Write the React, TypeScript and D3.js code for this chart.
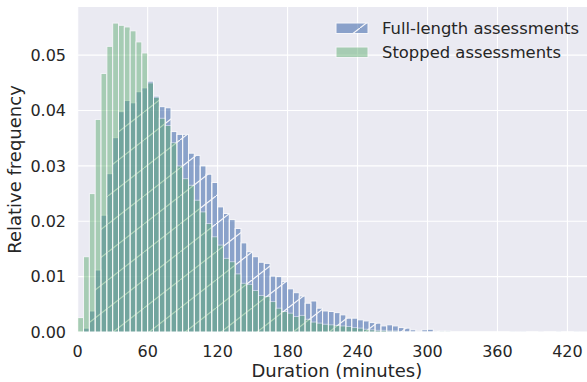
import React, { useRef, useEffect } from 'react';
import * as d3 from 'd3';

// relative frequency per 5-minute bin, starting at 0 minutes
const BIN_MINUTES = 5;

const fullLength = [
  0.0001, 0.0007, 0.0038, 0.0112, 0.0211, 0.0286, 0.0351, 0.0398, 0.0418, 0.0414,
  0.0434, 0.0441, 0.0453, 0.0426, 0.0407, 0.0405, 0.0362, 0.0357, 0.0357, 0.0323,
  0.0319, 0.0300, 0.0285, 0.0270, 0.0226, 0.0214, 0.0203, 0.0187, 0.0161, 0.0145,
  0.0136, 0.0126, 0.0124, 0.0101, 0.0100, 0.0091, 0.0078, 0.0071, 0.0065, 0.0052,
  0.0056, 0.0043, 0.0038, 0.0037, 0.0035, 0.0031, 0.0025, 0.0025, 0.0022, 0.0020,
  0.0017, 0.0016, 0.0011, 0.0013, 0.0011, 0.0008, 0.0007, 0.0004, 0.0002, 0.0004,
  0.0005, 0.0002, 0.0002, 0.0002, 0.0001, 0.0001, 0.0001, 0.0001, 0.0001, 0.0001,
  0.0001, 0.0001, 0.0001, 0.0001, 0.00005, 0, 0.00005, 0.0001, 0.0001, 0,
  0.0001, 0.0001, 0.00005, 0.0001, 0.0001, 0.00005,
];

const stopped = [
  0.0026, 0.0136, 0.0250, 0.0384, 0.0467, 0.0516, 0.0558, 0.0554, 0.0551, 0.0544,
  0.0524, 0.0504, 0.0450, 0.0424, 0.0386, 0.0373, 0.0342, 0.0300, 0.0277, 0.0265,
  0.0238, 0.0217, 0.0196, 0.0172, 0.0157, 0.0133, 0.0127, 0.0105, 0.0088, 0.0086,
  0.0075, 0.0066, 0.0064, 0.0055, 0.0043, 0.0037, 0.0034, 0.0028, 0.0030, 0.0023,
  0.0018, 0.0016, 0.0014, 0.0013, 0.0012, 0.0011, 0.0010, 0.0008, 0.0007, 0.0005,
  0.0004, 0.0003, 0.0003, 0.0002, 0.0002, 0.0001, 0.0001, 0.0001, 0.0001, 0.0001,
  0.0001, 0.0001, 0.00005, 0.00005,
];

const xTicks = [0, 60, 120, 180, 240, 300, 360, 420];
const yTicks = [0, 0.01, 0.02, 0.03, 0.04, 0.05];
const seriesNames = ['Full-length assessments', 'Stopped assessments'];

const BLUE = '#4c72b0';
const GREEN = '#55a868';
const FONT = 'DejaVu Sans, sans-serif';

const App = () => {
  const svgRef = useRef<SVGSVGElement>(null);
  const W = 587;
  const H = 382;
  const plot = { left: 77.7, right: 596, top: 7, bottom: 332 };

  useEffect(() => {
    const svg = d3.select(svgRef.current);
    svg.selectAll('*').remove();

    const x = d3.scaleLinear().domain([0, 444.5]).range([plot.left, plot.right]);
    const y = d3.scaleLinear().domain([0, 0.0587]).range([plot.bottom, plot.top]);

    const defs = svg.append('defs');
    // diagonal hatch like matplotlib's '/'
    const hw = 36, hh = 28;
    defs.append('pattern')
      .attr('id', 'hatch')
      .attr('patternUnits', 'userSpaceOnUse')
      .attr('width', hw)
      .attr('height', hh)
      .append('path')
      .attr('d', `M-2,${hh + 2 * hh / hw} L${hw + 2},${-2 * hh / hw}`)
      .attr('stroke', '#fff')
      .attr('stroke-width', 1.2);

    defs.append('clipPath').attr('id', 'plotclip')
      .append('rect')
      .attr('x', plot.left).attr('y', plot.top)
      .attr('width', plot.right - plot.left).attr('height', plot.bottom - plot.top);

    svg.append('rect')
      .attr('x', plot.left).attr('y', plot.top)
      .attr('width', plot.right - plot.left).attr('height', plot.bottom - plot.top)
      .attr('fill', '#eaeaf2');

    // grid
    svg.append('g').selectAll('line').data(xTicks).join('line')
      .attr('x1', d => x(d)).attr('x2', d => x(d))
      .attr('y1', plot.top).attr('y2', plot.bottom)
      .attr('stroke', '#fff').attr('stroke-width', 1.1);
    svg.append('g').selectAll('line').data(yTicks).join('line')
      .attr('x1', plot.left).attr('x2', plot.right)
      .attr('y1', d => y(d)).attr('y2', d => y(d))
      .attr('stroke', '#fff').attr('stroke-width', 1.1);

    const bars = svg.append('g').attr('clip-path', 'url(#plotclip)');

    // full-length: blue + hatch
    const blue = bars.append('g').attr('opacity', 0.6);
    blue.selectAll('rect.face').data(fullLength).join('rect')
      .attr('class', 'face')
      .attr('x', (d, i) => x(i * BIN_MINUTES))
      .attr('width', (d, i) => x((i + 1) * BIN_MINUTES) - x(i * BIN_MINUTES))
      .attr('y', d => y(d))
      .attr('height', d => y(0) - y(d))
      .attr('fill', BLUE);
    blue.selectAll('rect.hatch').data(fullLength).join('rect')
      .attr('class', 'hatch')
      .attr('x', (d, i) => x(i * BIN_MINUTES))
      .attr('width', (d, i) => x((i + 1) * BIN_MINUTES) - x(i * BIN_MINUTES))
      .attr('y', d => y(d))
      .attr('height', d => y(0) - y(d))
      .attr('fill', 'url(#hatch)')
      .attr('stroke', '#fff')
      .attr('stroke-width', 1);

    // stopped: green
    const green = bars.append('g').attr('opacity', 0.45);
    green.selectAll('rect').data(stopped).join('rect')
      .attr('x', (d, i) => x(i * BIN_MINUTES))
      .attr('width', (d, i) => x((i + 1) * BIN_MINUTES) - x(i * BIN_MINUTES))
      .attr('y', d => y(d))
      .attr('height', d => y(0) - y(d))
      .attr('fill', GREEN)
      .attr('stroke', '#fff')
      .attr('stroke-width', 1);

    // tick labels
    svg.append('g').selectAll('text').data(xTicks).join('text')
      .attr('x', d => x(d)).attr('y', 356.5)
      .attr('text-anchor', 'middle')
      .attr('font-family', FONT).attr('font-size', 16).attr('fill', '#262626')
      .text(d => d);
    svg.append('g').selectAll('text').data(yTicks).join('text')
      .attr('x', 66).attr('y', d => y(d))
      .attr('dy', '0.36em')
      .attr('text-anchor', 'end')
      .attr('font-family', FONT).attr('font-size', 16).attr('fill', '#262626')
      .text(d => d3.format('.2f')(d));

    // axis labels
    svg.append('text')
      .attr('x', (plot.left + plot.right) / 2).attr('y', 377)
      .attr('text-anchor', 'middle')
      .attr('font-family', FONT).attr('font-size', 18).attr('fill', '#262626')
      .text('Duration (minutes)');
    svg.append('text')
      .attr('transform', `translate(21,${(plot.top + plot.bottom) / 2}) rotate(-90)`)
      .attr('text-anchor', 'middle')
      .attr('font-family', FONT).attr('font-size', 18).attr('fill', '#262626')
      .text('Relative frequency');

    // legend
    const legend = svg.append('g');
    const rows = [
      { name: seriesNames[0], color: BLUE, alpha: 0.6, hatch: true },
      { name: seriesNames[1], color: GREEN, alpha: 0.45, hatch: false },
    ];
    rows.forEach((r, i) => {
      const ly = 23 + i * 24;
      const g = legend.append('g').attr('opacity', r.alpha);
      g.append('rect')
        .attr('x', 336).attr('y', ly).attr('width', 32).attr('height', 10.5)
        .attr('fill', r.color);
      g.append('rect')
        .attr('x', 336).attr('y', ly).attr('width', 32).attr('height', 10.5)
        .attr('fill', r.hatch ? 'url(#hatch)' : 'none')
        .attr('stroke', '#fff').attr('stroke-width', 1);
      legend.append('text')
        .attr('x', 382).attr('y', ly + 11.3)
        .attr('font-family', FONT).attr('font-size', 16.4).attr('fill', '#262626')
        .text(r.name);
    });
  }, []);

  return (
    <svg
      ref={svgRef}
      width={W}
      height={H}
      style={{ position: 'absolute', left: 0, top: 0, background: '#fff' }}
    ></svg>
  );
};

export default App;
